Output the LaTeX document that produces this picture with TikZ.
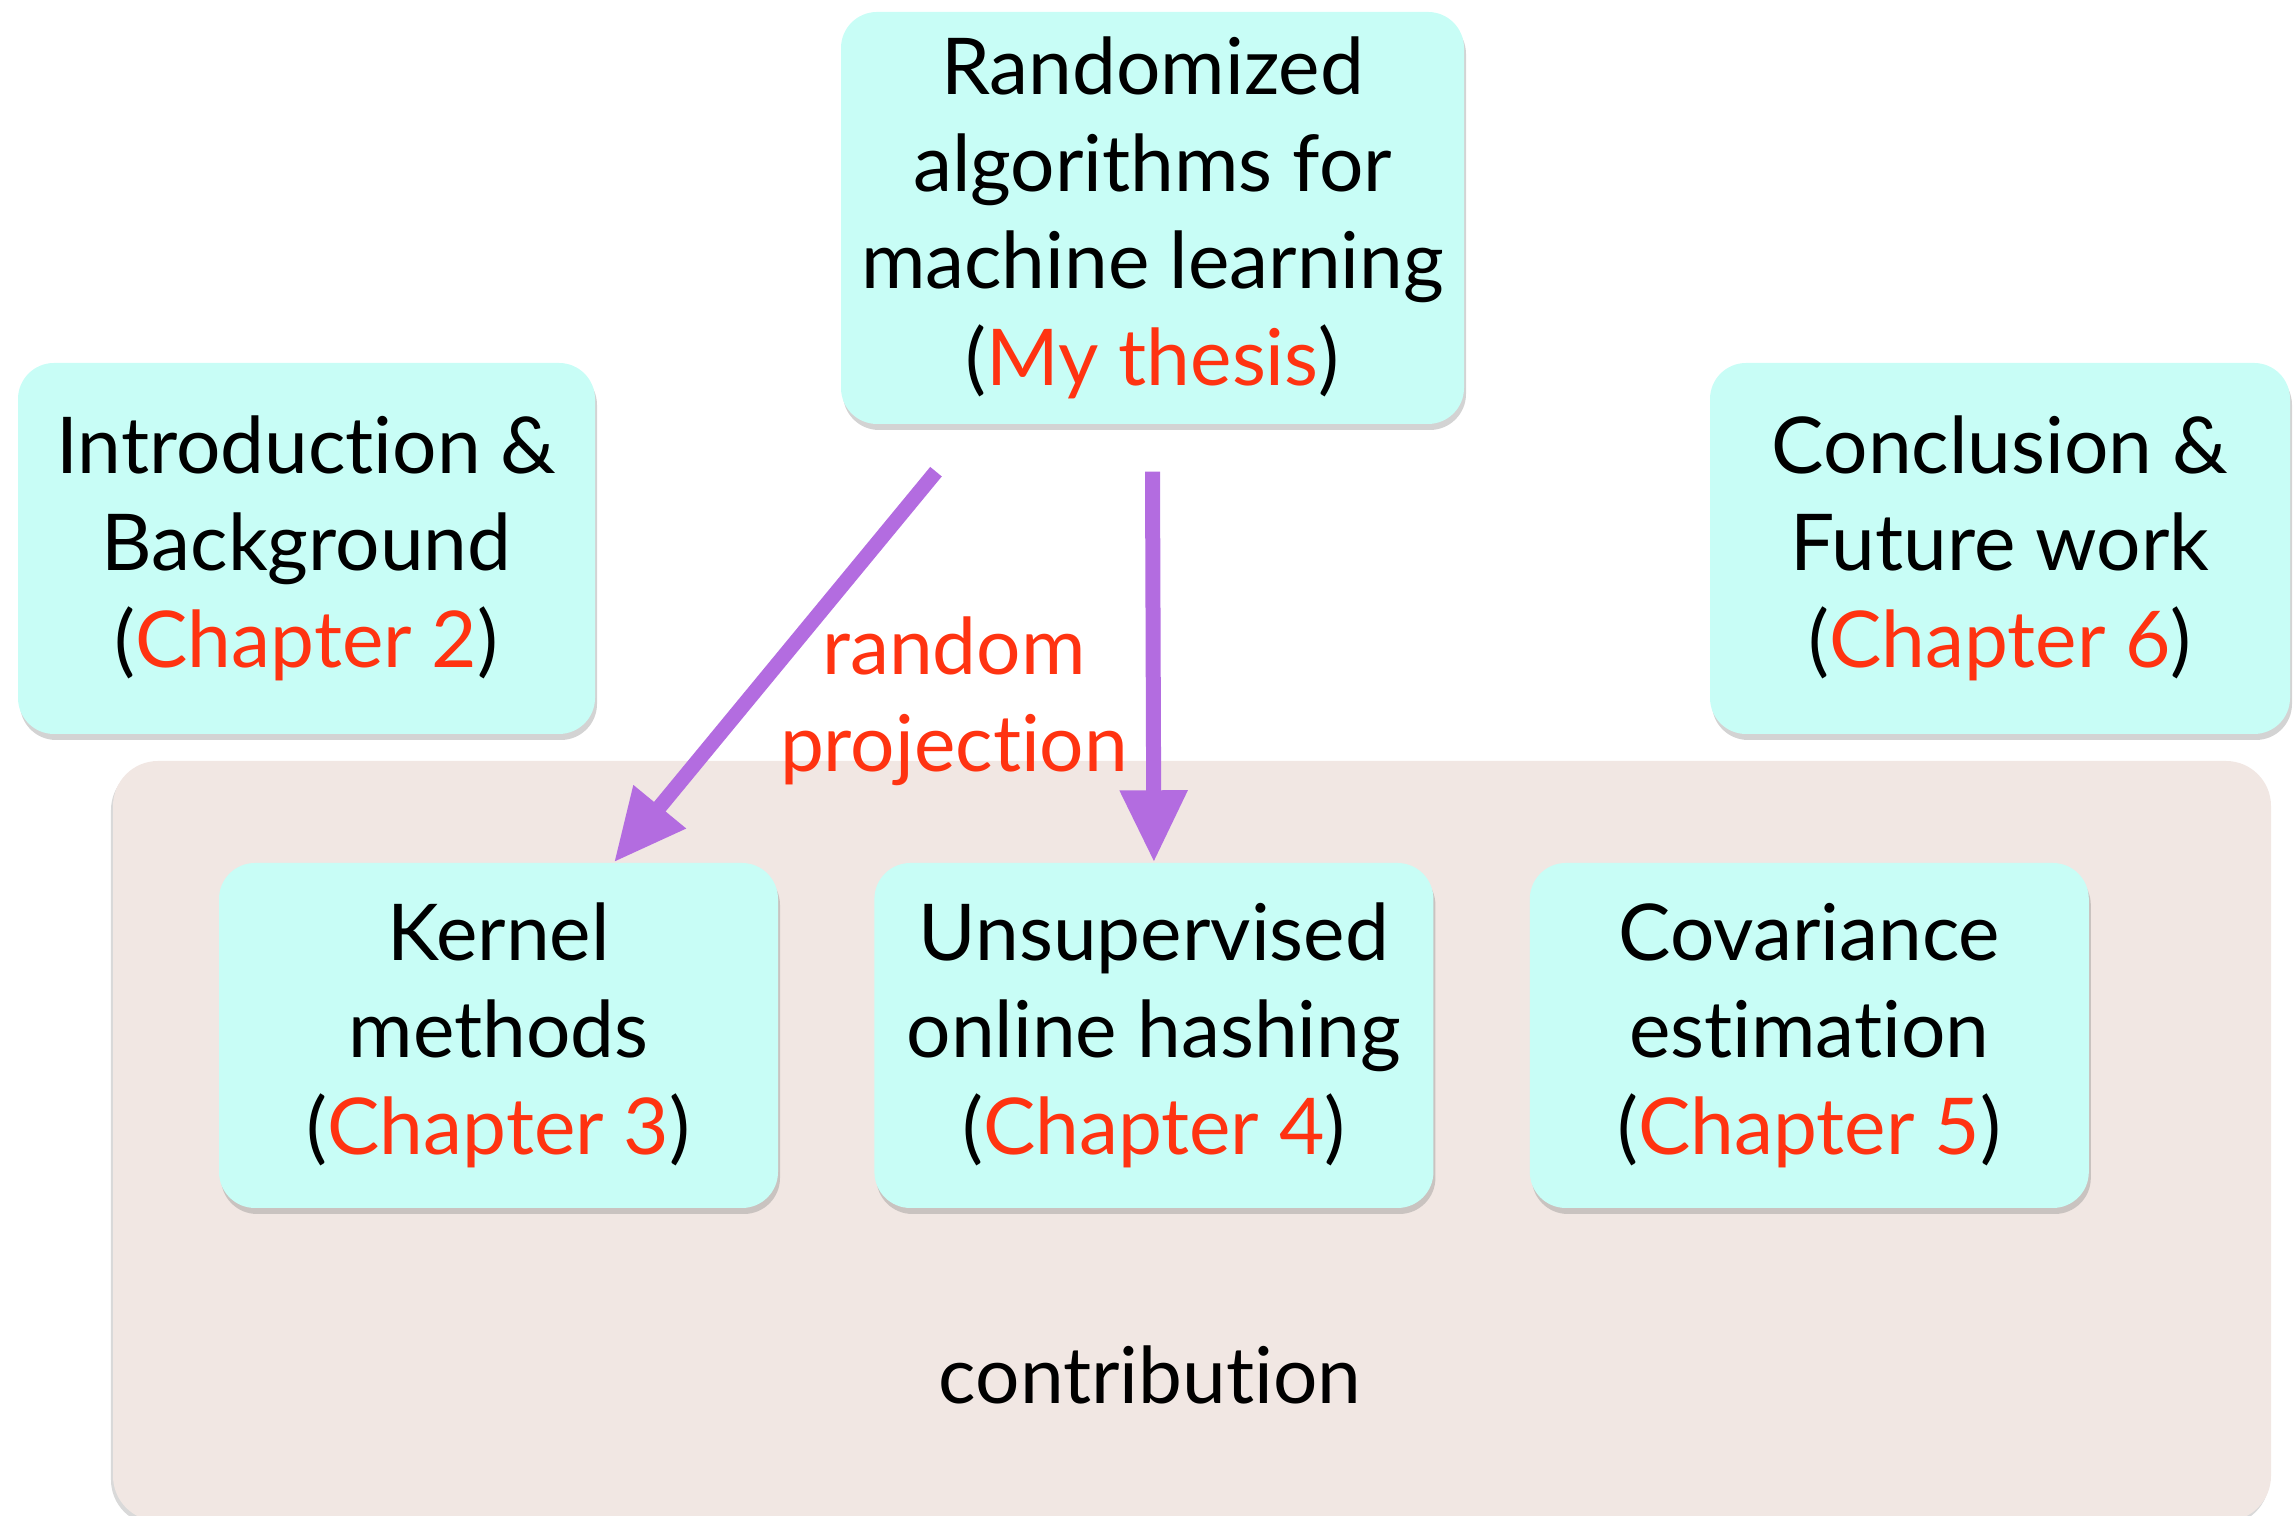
\documentclass[tikz,border=0pt]{standalone}
\usepackage{fontspec}
\setmainfont{Lato}[Ligatures=NoCommon]
\usetikzlibrary{positioning,shadows,arrows.meta}

\definecolor{boxcyan}{RGB}{200,253,246}
\definecolor{contribbg}{RGB}{241,231,227}
\definecolor{arrowpurple}{RGB}{179,108,224}
\definecolor{chapred}{RGB}{255,51,17}

\newcommand{\chapnote}[1]{(\textcolor{chapred}{Chapter~#1})}

\tikzset{
  bigfont/.style={font=\fontsize{22.3}{27.6}\selectfont},
  topic/.style={fill=boxcyan, rounded corners=0.36cm, align=center, bigfont,
    minimum width=5.59cm, minimum height=3.45cm,
    drop shadow={shadow xshift=0.02cm, shadow yshift=-0.06cm, opacity=0.35}},
  proj/.style={arrowpurple, line width=0.15cm, -{Triangle[length=0.72cm,width=0.64cm]}},
}

\begin{document}
\begin{tikzpicture}
  \useasboundingbox (0,0) rectangle (22.94,15.16);

  % shaded area holding the contribution chapters
  \node[fill=contribbg, rounded corners=0.45cm, minimum width=21.58cm, minimum height=7.6cm,
    drop shadow={shadow xshift=-0.02cm, shadow yshift=-0.04cm, opacity=0.3}] (contrib) at (11.92,3.75) {};
  \node[bigfont] (contriblabel) at (11.50,1.41) {contribution};

  \node[topic, minimum width=6.23cm, minimum height=4.12cm] (thesis) at (11.525,12.98)
    {Randomized\\algorithms for\\machine learning\\(\textcolor{chapred}{My thesis})};
  \node[topic, minimum width=5.77cm, minimum height=3.71cm] (intro) at (3.065,9.675)
    {Introduction \&\\Background\\\chapnote{2}};
  \node[topic, minimum width=5.80cm, minimum height=3.71cm] (concl) at (20.0,9.675)
    {Conclusion \&\\Future work\\\chapnote{6}};

  % the three chapters in a row
  \node[topic] (kernel) at (4.985,4.805) {Kernel\\methods\\\chapnote{3}};
  \node[topic, right=0.95cm of kernel] (hashing) {Unsupervised\\online hashing\\\chapnote{4}};
  \node[topic, right=0.95cm of hashing] (cov) {Covariance\\estimation\\\chapnote{5}};

  \draw[proj] ([xshift=-2.165cm,yshift=-0.47cm]thesis.south) -- ([xshift=1.155cm]kernel.north);
  \draw[proj] ([yshift=-0.47cm]thesis.south) -- (hashing.north);
  \node[bigfont, text=chapred, align=center] (projlabel) at (9.54,8.145) {random\\projection};
\end{tikzpicture}
\end{document}
